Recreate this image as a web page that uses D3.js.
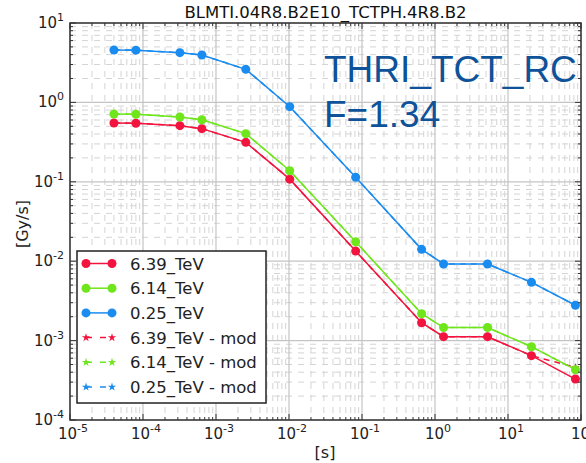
<!DOCTYPE html>
<html>
<head>
<meta charset="utf-8">
<script src="https://cdn.jsdelivr.net/npm/d3@7"></script>
<style>
  body { margin: 0; background: #fff; overflow: hidden; }
  text { font-family: "DejaVu Sans", sans-serif; }
</style>
</head>
<body>
<div id="chart"></div>
<script>
// running sum integration times [s]
var times = [4e-5, 8e-5, 3.2e-4, 6.4e-4, 2.56e-3, 1.024e-2, 8.192e-2, 0.655, 1.31, 5.24, 20.97, 83.89];

var red   = [0.55, 0.547, 0.509, 0.467, 0.314, 0.108, 0.0134, 0.00168, 0.00112, 0.00112, 0.000646, 0.000328];
var green = [0.714, 0.71, 0.655, 0.605, 0.404, 0.138, 0.0176, 0.00218, 0.00146, 0.00146, 0.000838, 0.00043];
var blue  = [4.57, 4.55, 4.23, 3.95, 2.61, 0.883, 0.114, 0.0141, 0.00923, 0.00923, 0.00542, 0.00279];

var redMod   = [0.55, 0.547, 0.509, 0.467, 0.314, 0.108, 0.0134, 0.00168, 0.00112, 0.00112, 0.000646, 0.00046];
var greenMod = [0.714, 0.71, 0.655, 0.605, 0.404, 0.138, 0.0176, 0.00218, 0.00146, 0.00146, 0.000838, 0.00043];
var blueMod  = [4.57, 4.55, 4.23, 3.95, 2.61, 0.883, 0.114, 0.0141, 0.00923, 0.00923, 0.00542, 0.00279];

var names = ["6.39_TeV", "6.14_TeV", "0.25_TeV", "6.39_TeV - mod", "6.14_TeV - mod", "0.25_TeV - mod"];
var xExp = [-5, -4, -3, -2, -1, 0, 1, 2];
var yExp = [-4, -3, -2, -1, 0, 1];

var cRed = "#f2143e", cGreen = "#6fe61c", cBlue = "#1a8cf0";

var W = 586, H = 463;
var pL = 70, pR = 581, pT = 23, pB = 420;

var svg = d3.select("#chart").append("svg").attr("width", W).attr("height", H);

var x = d3.scaleLog().domain([1e-5, 1e2]).range([pL, pR]);
var y = d3.scaleLog().domain([1e-4, 1e1]).range([pB, pT]);

// minor values
var xMinor = [], yMinor = [];
xExp.slice(0, -1).forEach(function (e) { for (var k = 2; k < 10; k++) xMinor.push(k * Math.pow(10, e)); });
yExp.slice(0, -1).forEach(function (e) { for (var k = 2; k < 10; k++) yMinor.push(k * Math.pow(10, e)); });

// grid
var grid = svg.append("g");
grid.selectAll(".vmin").data(xMinor).enter().append("line")
    .attr("x1", d => x(d)).attr("x2", d => x(d)).attr("y1", pT).attr("y2", pB)
    .attr("stroke", "#d4d4d4").attr("stroke-dasharray", "6,6");
grid.selectAll(".hmin").data(yMinor).enter().append("line")
    .attr("y1", d => y(d)).attr("y2", d => y(d)).attr("x1", pL).attr("x2", pR)
    .attr("stroke", "#d4d4d4").attr("stroke-dasharray", "6,6");
grid.selectAll(".vmaj").data(xExp).enter().append("line")
    .attr("x1", d => x(Math.pow(10, d))).attr("x2", d => x(Math.pow(10, d))).attr("y1", pT).attr("y2", pB)
    .attr("stroke", "#c4c4c4").attr("stroke-width", 1.2);
grid.selectAll(".hmaj").data(yExp).enter().append("line")
    .attr("y1", d => y(Math.pow(10, d))).attr("y2", d => y(Math.pow(10, d))).attr("x1", pL).attr("x2", pR)
    .attr("stroke", "#c4c4c4").attr("stroke-width", 1.2);

// big annotation
var ann = svg.append("g").attr("fill", "#0e5299");
ann.append("text").attr("x", 324).attr("y", 82).style("font-family", "'Liberation Sans', Arial, sans-serif").style("font-size", "37px").text("THRI_TCT_RC");
ann.append("text").attr("x", 324).attr("y", 127).style("font-family", "'Liberation Sans', Arial, sans-serif").style("font-size", "37px").text("F=1.34");

// series
var line = d3.line().x(d => x(d[0])).y(d => y(d[1]));
var star = d3.symbol().type(d3.symbolStar).size(22);

function drawMod(vals, col) {
  var pts = times.map((t, i) => [t, vals[i]]);
  svg.append("path").attr("d", line(pts)).attr("fill", "none").attr("stroke", col)
     .attr("stroke-width", 1.5).attr("stroke-dasharray", "6,5");
  svg.append("g").selectAll("path").data(pts).enter().append("path")
     .attr("transform", d => "translate(" + x(d[0]) + "," + y(d[1]) + ")")
     .attr("d", star).attr("fill", col);
}
function drawMain(vals, col) {
  var pts = times.map((t, i) => [t, vals[i]]);
  svg.append("path").attr("d", line(pts)).attr("fill", "none").attr("stroke", col).attr("stroke-width", 1.5);
  svg.append("g").selectAll("circle").data(pts).enter().append("circle")
     .attr("cx", d => x(d[0])).attr("cy", d => y(d[1])).attr("r", 4.5).attr("fill", col);
}
drawMod(redMod, cRed); drawMod(greenMod, cGreen); drawMod(blueMod, cBlue);
drawMain(red, cRed); drawMain(green, cGreen); drawMain(blue, cBlue);

// frame & ticks
var ax = svg.append("g").attr("stroke", "#333");
ax.append("rect").attr("x", pL).attr("y", pT).attr("width", pR - pL).attr("height", pB - pT)
  .attr("fill", "none").attr("stroke-width", 1.5);
function xt(v, len) {
  ax.append("line").attr("x1", x(v)).attr("x2", x(v)).attr("y1", pB).attr("y2", pB - len);
  ax.append("line").attr("x1", x(v)).attr("x2", x(v)).attr("y1", pT).attr("y2", pT + len);
}
function yt(v, len) {
  ax.append("line").attr("y1", y(v)).attr("y2", y(v)).attr("x1", pL).attr("x2", pL + len);
  ax.append("line").attr("y1", y(v)).attr("y2", y(v)).attr("x1", pR).attr("x2", pR - len);
}
xExp.forEach(e => xt(Math.pow(10, e), 6));
xMinor.forEach(v => xt(v, 3));
yExp.forEach(e => yt(Math.pow(10, e), 6));
yMinor.forEach(v => yt(v, 3));

// tick labels
function pow10(g, e) {
  g.append("tspan").text("10");
  g.append("tspan").attr("dy", -7).style("font-size", "11px").text(e);
}
xExp.forEach(function (e) {
  var t = svg.append("text").attr("x", x(Math.pow(10, e)) + 3).attr("y", 439)
    .attr("text-anchor", "middle").style("font-size", "15px").attr("fill", "#222");
  pow10(t, e);
});
yExp.forEach(function (e) {
  var t = svg.append("text").attr("x", 64).attr("y", y(Math.pow(10, e)) + 5)
    .attr("text-anchor", "end").style("font-size", "15px").attr("fill", "#222");
  pow10(t, e);
});

// titles
svg.append("text").attr("x", (pL + pR) / 2).attr("y", 18).attr("text-anchor", "middle")
   .style("font-size", "16.5px").attr("fill", "#111").text("BLMTI.04R8.B2E10_TCTPH.4R8.B2");
svg.append("text").attr("x", 325).attr("y", 458).attr("text-anchor", "middle")
   .style("font-size", "16px").attr("fill", "#222").text("[s]");
svg.append("text").attr("transform", "translate(28,224) rotate(-90)").attr("text-anchor", "middle")
   .style("font-size", "16px").attr("fill", "#222").text("[Gy/s]");

// legend
var lg = svg.append("g");
lg.append("rect").attr("x", 77).attr("y", 251).attr("width", 189).attr("height", 152)
  .attr("fill", "#fff").attr("stroke", "#222").attr("stroke-width", 1.5);
var cols = [cRed, cGreen, cBlue, cRed, cGreen, cBlue];
names.forEach(function (n, i) {
  var yy = 263.5 + i * 24.7;
  var mod = i >= 3;
  lg.append("line").attr("x1", 86).attr("x2", 112).attr("y1", yy).attr("y2", yy)
    .attr("stroke", cols[i]).attr("stroke-width", 1.5).attr("stroke-dasharray", mod ? "6,8" : null);
  [86, 112].forEach(function (px) {
    if (mod) lg.append("path").attr("transform", "translate(" + px + "," + yy + ")").attr("d", star).attr("fill", cols[i]);
    else lg.append("circle").attr("cx", px).attr("cy", yy).attr("r", 4.5).attr("fill", cols[i]);
  });
  lg.append("text").attr("x", 130).attr("y", yy + 6).style("font-size", "16.5px").attr("fill", "#222").text(n);
});
</script>
</body>
</html>
